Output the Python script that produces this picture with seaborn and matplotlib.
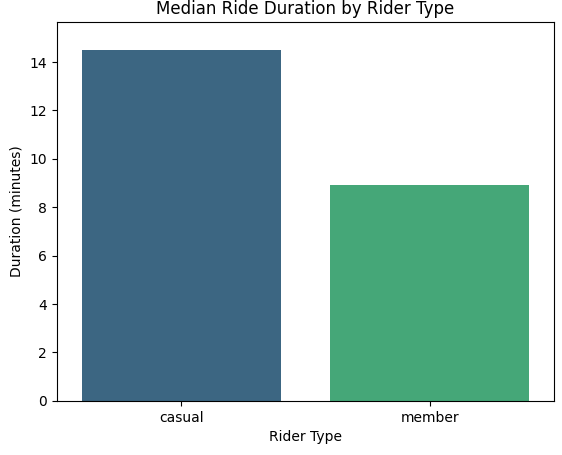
import pandas as pd
import matplotlib
matplotlib.use('Agg')
import matplotlib.pyplot as plt
import seaborn as sns

rider_types = ['casual', 'member']
median_minutes = [14.5, 8.9]

df = pd.DataFrame({'member_casual': rider_types, 'duration': median_minutes})

fig = plt.figure(figsize=(5.62, 4.55), dpi=100)
ax = fig.add_axes([0.101, 0.119, 0.885, 0.833])
sns.barplot(data=df, x='member_casual', y='duration', hue='member_casual',
            palette='viridis', legend=False, ax=ax)
ax.set_ylim(0, 15.66)
ax.set_title('Median Ride Duration by Rider Type')
ax.set_xlabel('Rider Type')
ax.set_ylabel('Duration (minutes)')
fig.savefig('out.png', dpi=100)
